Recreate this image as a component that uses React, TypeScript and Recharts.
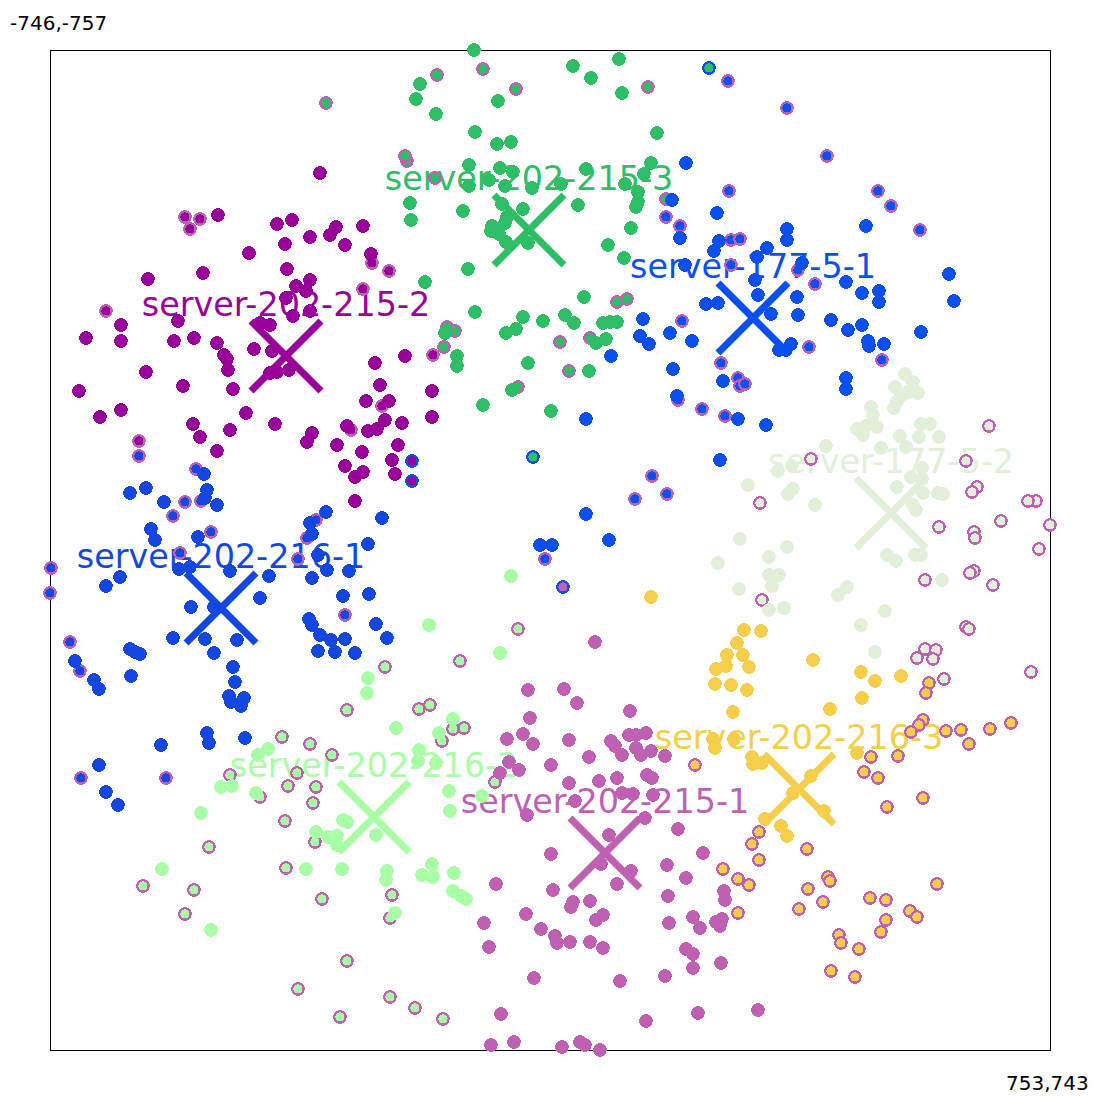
import React from "react";
import { ScatterChart, Scatter, XAxis, YAxis, ReferenceArea } from "recharts";

type Pt = [number, number];

const cornerMin = "-746,-757";
const cornerMax = "753,743";
const xDomain: [number, number] = [-746, 754];
const yDomain: [number, number] = [-757, 743];

// Positions on a 0-1000 grid across the plot frame.
const greenPlain: Pt[] = [[424,0],[370,34],[366,49],[386,64],[448,51],[425,82],[447,94],[461,92],[419,115],[450,118],[463,122],[439,130],[419,136],[455,136],[482,138],[360,153],[361,170],[413,161],[452,154],[473,159],[457,167],[455,173],[442,176],[441,181],[449,184],[456,192],[478,193],[418,219],[375,232],[425,262],[473,267],[493,271],[466,279],[456,283],[395,283],[407,306],[407,316],[478,313],[462,340],[433,355],[501,361],[523,16],[541,28],[569,9],[572,43],[607,83],[536,119],[601,113],[594,124],[575,134],[511,134],[588,142],[588,152],[586,157],[528,155],[581,178],[558,195],[574,208],[534,247],[515,265],[524,273],[553,273],[560,272],[567,272],[546,293],[556,289],[539,321]];
const greenRing: Pt[] = [[387,25],[433,19],[466,39],[276,53],[357,111],[355,106],[385,128],[394,297],[405,281],[397,277],[468,337],[598,37],[616,149],[567,252],[577,249],[510,292],[540,288],[519,321]];
const greenBlueRing: Pt[] = [[659,18],[483,407]];

const purplePlain: Pt[] = [[270,123],[168,165],[227,174],[242,170],[286,177],[280,185],[313,176],[260,187],[235,194],[295,195],[199,203],[321,204],[237,219],[153,223],[98,229],[260,230],[246,236],[256,241],[236,248],[260,261],[243,266],[128,271],[71,275],[210,273],[220,275],[36,288],[71,291],[124,291],[144,288],[167,293],[174,305],[177,309],[178,320],[204,299],[222,301],[239,320],[220,323],[227,322],[325,313],[355,306],[96,322],[133,336],[29,341],[183,339],[330,335],[382,341],[316,351],[339,351],[71,360],[50,367],[196,363],[143,374],[180,380],[225,374],[335,370],[352,373],[382,367],[297,376],[327,379],[318,381],[150,387],[262,383],[257,392],[287,395],[167,401],[312,402],[348,395],[342,410],[295,416],[313,422],[305,427],[345,424],[305,451]];
const purpleRing: Pt[] = [[135,167],[150,169],[140,179],[313,239],[322,213],[339,221],[56,261],[383,305],[332,356],[301,380],[89,391]];
const purpleBlueRing: Pt[] = [[362,411],[362,431]];

const palePlain: Pt[] = [[855,324],[863,332],[845,337],[868,343],[858,342],[851,346],[847,352],[844,358],[821,357],[823,365],[807,379],[816,376],[813,385],[827,377],[871,374],[880,374],[869,387],[850,386],[889,387],[856,397],[831,398],[776,396],[872,418],[872,429],[861,427],[847,437],[728,421],[742,416],[698,435],[743,439],[738,444],[873,443],[888,443],[893,444],[863,455],[866,460],[765,455],[690,489],[737,497],[668,513],[719,507],[837,505],[846,511],[865,505],[871,505],[719,525],[729,525],[722,536],[689,539],[797,537],[788,545],[719,560],[734,558],[835,561],[811,575],[825,602],[892,530]];
const paleRing: Pt[] = [[939,376],[916,411],[761,409],[927,437],[922,442],[986,451],[978,451],[710,453],[951,471],[889,477],[924,482],[925,488],[1000,475],[989,499],[924,521],[920,523],[875,530],[943,535],[712,550],[916,577],[919,579],[875,599],[886,600],[867,608],[883,609],[894,629],[981,622]];

const blueOnePlain: Pt[] = [[154,424],[80,443],[96,438],[114,452],[157,440],[155,448],[167,455],[276,462],[332,468],[260,473],[262,484],[101,479],[105,490],[148,487],[318,494],[129,519],[140,517],[70,527],[56,536],[180,521],[219,526],[268,505],[277,520],[299,521],[262,528],[293,546],[319,544],[141,557],[164,557],[210,548],[259,569],[262,575],[326,574],[270,585],[281,590],[295,589],[337,588],[123,588],[155,589],[187,590],[268,601],[285,602],[305,603],[164,603],[80,599],[85,602],[90,604],[25,611],[81,626],[44,630],[49,639],[183,617],[185,632],[179,646],[181,652],[194,648],[191,656],[157,683],[159,693],[195,688],[111,695],[49,715],[56,742],[68,755]];
const blueOneRing: Pt[] = [[89,406],[146,419],[135,452],[151,451],[123,466],[266,470],[257,488],[161,482],[130,503],[1,518],[0,543],[248,509],[295,565],[20,592],[30,621],[31,728],[116,728]];

const lightPlain: Pt[] = [[461,526],[379,575],[450,603],[318,628],[317,643],[346,678],[403,669],[389,683],[369,700],[368,711],[386,713],[218,699],[208,705],[171,737],[182,736],[206,743],[151,763],[399,741],[400,761],[432,746],[293,770],[297,772],[266,782],[278,787],[287,786],[287,795],[326,785],[112,819],[256,819],[292,819],[337,821],[336,830],[382,814],[372,825],[383,827],[404,823],[403,841],[411,846],[416,849],[345,863],[161,880]];
const lightRing: Pt[] = [[468,579],[410,611],[335,617],[297,660],[369,659],[380,655],[414,678],[403,679],[392,691],[232,687],[260,694],[282,705],[180,725],[247,723],[238,736],[266,737],[210,747],[263,753],[445,732],[235,771],[159,797],[265,792],[236,818],[93,836],[144,840],[272,849],[342,845],[340,868],[135,864],[297,911],[248,939],[340,947],[365,958],[393,969],[290,967]];

const pinkPlain: Pt[] = [[545,592],[514,639],[527,653],[580,661],[579,685],[586,685],[596,683],[519,690],[561,691],[565,696],[586,698],[591,705],[601,701],[615,706],[572,705],[539,707],[501,715],[597,725],[602,728],[567,728],[549,731],[519,733],[572,743],[583,744],[603,745],[525,751],[595,768],[559,785],[628,779],[501,804],[551,814],[653,803],[617,815],[636,828],[581,821],[567,834],[503,840],[618,846],[674,841],[675,850],[540,851],[523,852],[521,857],[553,865],[546,870],[643,867],[666,872],[672,869],[670,876],[619,873],[650,878],[505,886],[507,893],[520,892],[540,892],[553,898],[636,899],[643,904],[643,918],[671,913],[615,926],[570,931],[648,963],[708,960],[596,971],[512,997],[530,992],[535,995],[550,1000],[478,640],[480,668],[473,684],[457,689],[483,694],[459,712],[469,720],[450,723],[477,765],[446,834],[476,864],[434,873],[491,879],[439,897],[484,928],[451,964],[441,995],[464,992]];
const pinkBlueRing: Pt[] = [[513,537]];

const yellowPlain: Pt[] = [[601,547],[694,580],[711,581],[687,593],[677,605],[693,605],[676,616],[699,617],[666,619],[665,634],[681,635],[697,640],[763,610],[811,622],[825,631],[851,626],[812,648],[780,659],[683,662],[663,689],[665,698],[684,689],[807,703],[702,707],[703,714],[712,713],[761,726],[743,743],[774,761],[715,769],[731,776],[737,786]];
const yellowRing: Pt[] = [[879,633],[876,643],[873,670],[869,675],[861,682],[896,681],[911,680],[940,679],[961,673],[919,694],[821,707],[848,706],[645,715],[814,722],[828,728],[873,748],[837,757],[709,782],[702,794],[709,810],[757,799],[673,819],[688,829],[699,835],[887,834],[778,827],[780,831],[758,839],[773,852],[749,859],[820,848],[836,850],[688,863],[860,861],[867,867],[836,870],[831,882],[789,885],[791,893],[809,899],[781,921],[805,927]];

const blueTwoPlain: Pt[] = [[636,113],[622,150],[667,163],[630,188],[816,176],[737,179],[737,190],[669,191],[664,201],[717,198],[707,207],[635,215],[752,213],[899,224],[705,230],[796,232],[904,251],[812,243],[829,241],[829,252],[708,245],[747,247],[656,254],[668,253],[593,269],[721,264],[748,265],[781,270],[812,275],[798,280],[590,286],[599,294],[620,283],[642,291],[871,282],[818,291],[819,296],[834,294],[741,294],[729,300],[736,300],[561,306],[623,319],[673,331],[796,328],[796,339],[627,346],[688,369],[716,375],[536,369],[670,410],[536,464],[559,490],[502,495],[490,495]];
const blueTwoRing: Pt[] = [[678,31],[737,58],[777,106],[679,141],[828,141],[841,156],[616,167],[630,176],[870,180],[681,190],[690,189],[681,215],[748,220],[765,234],[632,271],[759,297],[671,313],[832,310],[688,328],[690,336],[695,334],[628,350],[652,359],[675,366],[602,426],[585,449],[617,444],[495,509]];

const GREEN = "#2dbe66";
const PURPLE = "#990099";
const PALE = "#e2efd9";
const BLUE1 = "#1447e0";
const LIGHT = "#a9ffa5";
const PINK = "#bf60b3";
const YELLOW = "#f5cf4b";
const BLUE2 = "#0a50f0";

const centres = [
  { name: "server-202-215-3", color: GREEN, at: [479, 180] as Pt },
  { name: "server-202-215-2", color: PURPLE, at: [236, 306] as Pt },
  { name: "server-177-5-1", color: BLUE2, at: [703, 268] as Pt },
  { name: "server-177-5-2", color: PALE, at: [841, 463] as Pt },
  { name: "server-202-216-1", color: BLUE1, at: [171, 558] as Pt },
  { name: "server-202-216-2", color: LIGHT, at: [324, 767] as Pt },
  { name: "server-202-215-1", color: PINK, at: [555, 803] as Pt },
  { name: "server-202-216-3", color: YELLOW, at: [749, 739] as Pt },
];

const layers: { data: Pt[]; fill: string; ring?: string }[] = [
  { data: greenRing, fill: GREEN, ring: PINK },
  { data: greenBlueRing, fill: GREEN, ring: BLUE2 },
  { data: greenPlain, fill: GREEN },
  { data: purpleRing, fill: PURPLE, ring: PINK },
  { data: purpleBlueRing, fill: PURPLE, ring: BLUE2 },
  { data: purplePlain, fill: PURPLE },
  { data: paleRing, fill: PALE, ring: PINK },
  { data: palePlain, fill: PALE },
  { data: lightRing, fill: LIGHT, ring: PINK },
  { data: lightPlain, fill: LIGHT },
  { data: pinkBlueRing, fill: PINK, ring: BLUE2 },
  { data: pinkPlain, fill: PINK },
  { data: yellowRing, fill: YELLOW, ring: PINK },
  { data: yellowPlain, fill: YELLOW },
  { data: blueOneRing, fill: BLUE1, ring: PINK },
  { data: blueOnePlain, fill: BLUE1 },
  { data: blueTwoRing, fill: BLUE2, ring: PINK },
  { data: blueTwoPlain, fill: BLUE2 },
];

const toRow = ([gx, gy]: Pt) => ({ x: xDomain[0] + gx * 1.5, y: yDomain[0] + gy * 1.5 });

const FONT = "DejaVu Sans";
const ARM = 35;

const Dot = (fill: string, ring?: string) => (p: any) =>
  ring ? (
    <circle cx={p.cx} cy={p.cy} r={5.7} fill={fill} stroke={ring} strokeWidth={2.2} shapeRendering="crispEdges" />
  ) : (
    <circle cx={p.cx} cy={p.cy} r={6.8} fill={fill} shapeRendering="crispEdges" />
  );

const Cross = (name: string, color: string) => (p: any) => (
  <g>
    <line x1={p.cx - ARM} y1={p.cy - ARM} x2={p.cx + ARM} y2={p.cy + ARM} stroke={color} strokeWidth={7} />
    <line x1={p.cx - ARM} y1={p.cy + ARM} x2={p.cx + ARM} y2={p.cy - ARM} stroke={color} strokeWidth={7} />
    <text x={p.cx} y={p.cy - 40} textAnchor="middle" fontFamily={FONT} fontSize={33.4} fill={color}>
      {name}
    </text>
  </g>
);

export default function App() {
  return (
    <div style={{ position: "absolute", left: 0, top: 0, width: 1100, height: 1100 }}>
      <ScatterChart width={1100} height={1100} margin={{ top: 50, right: 50, bottom: 50, left: 50 }}>
        <XAxis type="number" dataKey="x" domain={xDomain} hide allowDataOverflow={false} />
        <YAxis type="number" dataKey="y" domain={yDomain} reversed hide allowDataOverflow={false} />
        <ReferenceArea
          x1={xDomain[0]}
          x2={xDomain[1]}
          y1={yDomain[0]}
          y2={yDomain[1]}
          fill="none"
          fillOpacity={0}
          stroke="#000"
          strokeWidth={1}
          shapeRendering="crispEdges"
        />
        {centres.map((c) => (
          <Scatter
            key={c.name}
            name={c.name}
            data={[toRow(c.at)]}
            isAnimationActive={false}
            shape={Cross(c.name, c.color)}
          />
        ))}
        {layers.map((l, i) => (
          <Scatter
            key={i}
            data={l.data.map(toRow)}
            isAnimationActive={false}
            shape={Dot(l.fill, l.ring)}
          />
        ))}
        <text x={10} y={30} fontFamily={FONT} fontSize={20} fill="#000">
          {cornerMin}
        </text>
        <text x={1006} y={1090} fontFamily={FONT} fontSize={20} fill="#000">
          {cornerMax}
        </text>
      </ScatterChart>
    </div>
  );
}
